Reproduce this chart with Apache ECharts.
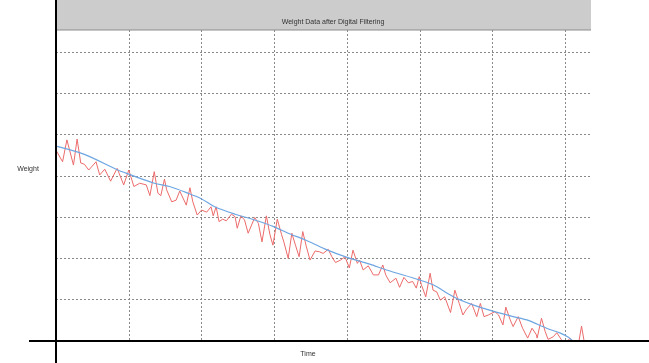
<!DOCTYPE html>
<html>
<head>
<meta charset="utf-8">
<script src="https://cdn.jsdelivr.net/npm/echarts@6/dist/echarts.min.js"></script>
<style>html,body{margin:0;padding:0;background:#fff;}#c{width:649px;height:363px;}</style>
</head>
<body>
<div id="c"></div>
<script>
const titleText = 'Weight Data after Digital Filtering';
const xName = 'Time';
const yName = 'Weight';

// Raw (noisy) weight samples
const rawTime = [0.0,0.9,1.5,2.4,2.9,3.4,3.9,4.5,5.5,6.0,6.7,7.5,8.4,9.3,10.0,10.7,11.5,12.4,12.9,13.5,14.0,14.4,14.9,15.2,15.9,16.5,17.0,17.9,18.4,18.8,19.4,20.0,20.7,21.3,21.6,22.0,22.4,22.9,23.4,24.1,24.6,24.9,25.4,25.9,26.4,27.3,27.8,28.3,28.9,29.4,29.8,30.4,31.0,31.3,31.9,32.4,32.9,33.4,33.9,34.4,34.9,35.6,36.2,36.7,37.4,37.9,38.4,39.1,39.7,40.3,40.8,41.4,41.7,42.2,42.9,43.6,44.3,44.9,45.3,45.9,46.7,47.2,47.8,48.4,49.0,49.5,49.9,50.2,50.8,51.4,51.8,52.3,52.8,53.4,54.2,54.8,55.4,55.9,56.4,57.1,57.8,58.3,58.8,59.4,60.3,60.8,61.4,61.8,62.4,62.8,63.5,64.1,64.8,65.4,66.0,66.1,66.7,67.2,67.6,68.3,68.8,69.4,69.9,70.6,71.1,71.8,72.2,72.6];
const rawWeight = [46.2,43.4,48.7,42.6,48.9,43.1,42.8,41.4,43.4,40.2,41.6,38.7,41.8,37.8,41.4,37.4,38.2,37.8,35.2,41.0,35.8,35.2,39.2,36.6,33.7,34.1,36.3,32.9,37.1,33.7,30.5,31.7,31.2,32.5,30.3,32.5,28.9,29.5,29.1,30.7,30.1,27.3,30.3,29.3,26.1,29.9,28.5,24.0,30.3,25.7,23.2,29.5,25.7,24.0,20.0,26.1,23.2,20.4,26.5,22.8,19.6,21.8,21.6,21.2,22.2,20.4,19.0,19.6,20.4,17.7,22.0,18.8,19.6,17.2,18.2,16.0,16.0,18.4,16.0,14.1,15.2,13.0,15.4,14.1,14.4,12.8,15.6,13.6,10.7,16.4,12.3,11.9,9.9,10.7,6.9,12.3,9.1,6.3,7.7,9.1,5.9,9.1,5.9,6.3,7.1,6.3,3.9,8.2,5.1,3.5,5.9,3.1,0.7,3.1,1.5,0.7,5.5,2.3,0.4,1.0,2.0,0.4,-1.0,0.7,-0.5,-0.5,3.6,-0.5];

// Filtered weight
const filtTime = [0.0,3.9,8.5,10.0,13.5,15.6,18.1,20.0,21.8,24.6,27.3,29.9,31.9,34.2,36.9,39.9,43.1,45.4,49.9,51.8,54.6,56.9,59.9,62.8,64.7,67.4,69.3,70.4,71.0];
const filtWeight = [47.2,45.2,41.4,40.4,38.2,37.4,35.8,34.4,32.5,30.7,29.3,27.7,26.1,24.5,22.3,20.3,18.6,17.2,14.8,13.6,10.7,9.0,7.3,5.9,5.1,3.1,1.9,0.9,0.0];

const rawData = rawTime.map((t, i) => [t, rawWeight[i]]);
const filtData = filtTime.map((t, i) => [t, filtWeight[i]]);

const chart = echarts.init(document.getElementById('c'));
const gridStyle = { show: true, showMinLine: false, showMaxLine: false,
  lineStyle: { color: '#8a8a8a', width: 1, type: [2, 2] } };
const font = 'Liberation Sans, Arial, sans-serif';
chart.setOption({
  animation: false,
  backgroundColor: '#ffffff',
  grid: { left: 56, right: 58, top: 30, bottom: 22 },
  xAxis: {
    type: 'value', min: 0, max: 73.5, interval: 10,
    axisLine: { show: false }, axisTick: { show: false }, axisLabel: { show: false },
    splitLine: gridStyle
  },
  yAxis: {
    type: 'value', min: 0, max: 75.3, interval: 10,
    axisLine: { show: false }, axisTick: { show: false }, axisLabel: { show: false },
    splitLine: gridStyle
  },
  series: [
    { type: 'line', data: rawData, showSymbol: false, symbol: 'none', clip: true,
      lineStyle: { color: '#ec6a6a', width: 1 }, z: 3 },
    { type: 'line', data: filtData, showSymbol: false, symbol: 'none', smooth: 0.3, clip: true,
      lineStyle: { color: '#6ea6e2', width: 1.2 }, z: 4 }
  ],
  graphic: [
    { type: 'rect', shape: { x: 57, y: 0, width: 534, height: 30 }, style: { fill: '#cccccc' }, z: 1 },
    { type: 'line', shape: { x1: 57, y1: 30, x2: 591, y2: 30 }, style: { stroke: '#8c8c8c', lineWidth: 1 }, z: 2 },
    { type: 'text', x: 333, y: 22, style: { text: titleText, fill: '#333', font: '7px ' + font, textAlign: 'center', textVerticalAlign: 'middle' }, z: 5 },
    { type: 'text', x: 28, y: 169, style: { text: yName, fill: '#333', font: '7px ' + font, textAlign: 'center', textVerticalAlign: 'middle' }, z: 5 },
    { type: 'text', x: 308, y: 354, style: { text: xName, fill: '#333', font: '7px ' + font, textAlign: 'center', textVerticalAlign: 'middle' }, z: 5 },
    { type: 'line', shape: { x1: 56, y1: 0, x2: 56, y2: 363 }, style: { stroke: '#000', lineWidth: 2 }, z: 10 },
    { type: 'line', shape: { x1: 29, y1: 341, x2: 649, y2: 341 }, style: { stroke: '#000', lineWidth: 2 }, z: 10 }
  ]
});
</script>
</body>
</html>
